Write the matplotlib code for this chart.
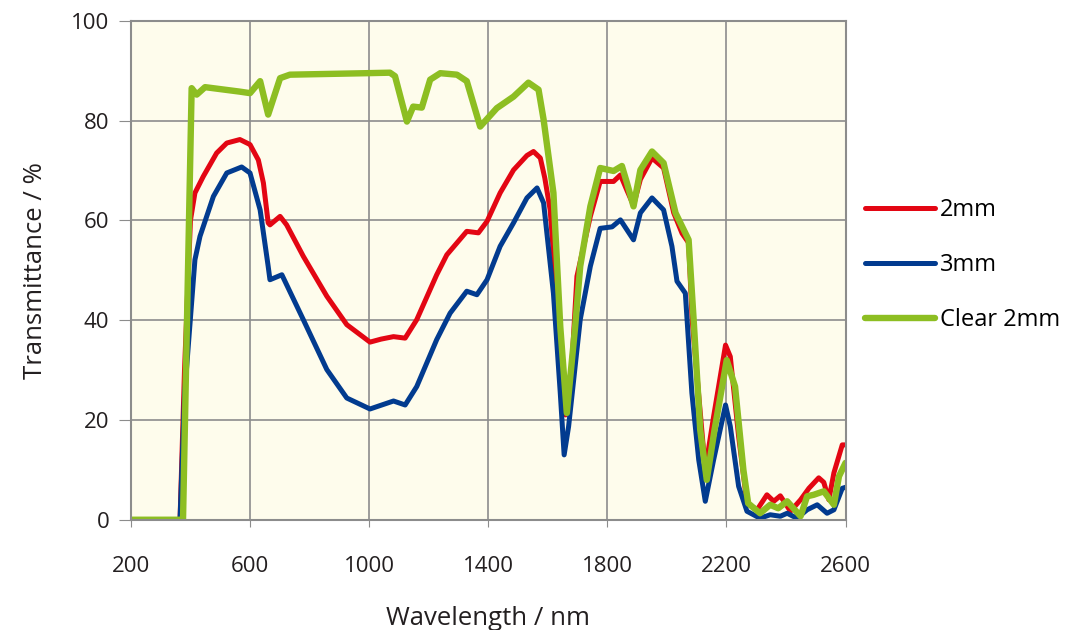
import numpy as np
import matplotlib.pyplot as plt

plt.rcParams['font.family'] = ['Open Sans', 'DejaVu Sans']

# Transmittance spectra (wavelength in nm, T in %)
wl_red = [200, 365, 380, 400, 415, 443, 488, 522, 566, 600, 628, 645, 661, 667, 701, 723, 779,
          858, 925, 1003, 1040, 1082, 1121, 1160, 1227, 1261, 1328, 1367, 1396, 1440, 1485,
          1530, 1552, 1575, 1590, 1608, 1642, 1660, 1675, 1698, 1743, 1776, 1821, 1844, 1866,
          1888, 1911, 1950, 1989, 2023, 2051, 2073, 2085, 2129, 2157, 2197, 2213, 2241, 2269,
          2303, 2336, 2359, 2381, 2415, 2449, 2477, 2510, 2527, 2544, 2561, 2589, 2600]
t_red = [0, 0, 30, 60, 65.5, 68.8, 73.5, 75.5, 76.2, 75.2, 72.1, 67.5, 59.5, 59.1, 60.8, 59.1, 52.8,
         44.8, 39.1, 35.6, 36.2, 36.7, 36.4, 40.1, 49.1, 53.1, 57.8, 57.5, 59.8, 65.5, 70.1,
         73.0, 73.8, 72.5, 68.5, 62.1, 35.4, 21.0, 25.0, 48.8, 60.8, 67.8, 67.8, 69.1, 66.0,
         63.0, 68.2, 72.5, 70.5, 61.5, 57.4, 55.5, 40.0, 10.0, 20.7, 35.0, 32.7, 16.7, 3.3,
         2.0, 5.0, 3.7, 4.8, 1.7, 4.0, 6.3, 8.4, 7.5, 4.0, 9.4, 15.0, 15.0]

wl_blue = [200, 365, 380, 415, 432, 477, 522, 572, 600, 634, 661, 667, 707, 779, 858, 925, 1003,
           1082, 1121, 1160, 1227, 1272, 1328, 1362, 1396, 1440, 1485, 1530, 1564, 1586, 1619,
           1642, 1655, 1670, 1709, 1743, 1776, 1816, 1844, 1866, 1888, 1911, 1950, 1989, 2017,
           2034, 2062, 2068, 2084, 2107, 2129, 2157, 2197, 2213, 2241, 2269, 2313, 2347, 2381,
           2404, 2437, 2471, 2505, 2538, 2561, 2589, 2600]
t_blue = [0, 0, 25, 52.1, 56.8, 64.8, 69.5, 70.7, 69.5, 62.1, 50.8, 48.1, 49.1, 40.1, 30.1, 24.4, 22.2,
          23.8, 23.0, 26.7, 36.1, 41.4, 45.8, 45.1, 48.1, 54.8, 59.5, 64.5, 66.5, 63.5, 45.4,
          25.4, 13.0, 18.7, 40.1, 50.8, 58.4, 58.7, 60.1, 58.1, 56.1, 61.5, 64.5, 62.1, 54.8,
          47.8, 45.4, 40.0, 25.4, 12.0, 3.7, 12.0, 23.0, 18.7, 6.7, 1.7, 0.3, 1.0, 0.7,
          1.3, 0.3, 2.0, 3.0, 1.3, 2.0, 6.3, 6.5]

wl_clear = [200, 375, 404, 421, 449, 566, 600, 634, 661, 701, 734, 992, 1070, 1087, 1127, 1148,
            1177, 1205, 1239, 1295, 1328, 1373, 1429, 1485, 1535, 1569, 1586, 1619, 1642, 1664,
            1692, 1709, 1743, 1776, 1821, 1849, 1866, 1888, 1911, 1950, 1989, 2029, 2073, 2090,
            2112, 2134, 2160, 2201, 2229, 2257, 2273, 2313, 2347, 2374, 2404, 2449, 2471, 2493,
            2527, 2561, 2578, 2600]
t_clear = [0, 0, 86.5, 85.2, 86.7, 85.8, 85.5, 87.9, 81.2, 88.5, 89.2, 89.5, 89.6, 88.9, 79.8, 82.8,
           82.6, 88.2, 89.5, 89.2, 87.9, 78.8, 82.5, 84.8, 87.6, 86.2, 80.2, 65.5, 38.7, 21.4,
           38.7, 50.8, 62.8, 70.5, 69.9, 70.9, 67.5, 62.8, 70.1, 73.8, 71.5, 61.5, 56.1, 40.0,
           18.0, 8.0, 18.0, 32.0, 26.7, 10.0, 3.3, 1.3, 3.0, 2.3, 3.7, 0.7, 4.7, 5.0,
           5.7, 3.0, 8.7, 11.4]

fig = plt.figure(figsize=(10.73, 6.30), dpi=100)
ax = fig.add_axes([0.122, 0.175, 0.666, 0.792])
ax.set_facecolor('#fefcec')

kw = dict(solid_joinstyle='round', solid_capstyle='round')
ax.plot(wl_red, t_red, color='#e30613', lw=3.6, label='2mm', **kw)
ax.plot(wl_blue, t_blue, color='#023b8f', lw=3.6, label='3mm', **kw)
ax.plot(wl_clear, t_clear, color='#8dbe22', lw=4.6, label='Clear 2mm', **kw)

ax.set_xlim(200, 2600)
ax.set_ylim(0, 100)
ax.set_xticks(np.arange(200, 2601, 400))
ax.set_yticks(np.arange(0, 101, 20))
ax.grid(True, color='#8c8c8c', lw=1.2)
ax.set_axisbelow(True)
for s in ax.spines.values():
    s.set_color('#8c8c8c')
    s.set_linewidth(1.5)
ax.tick_params(axis='both', colors='#8c8c8c', labelcolor='#231f20', labelsize=16)
ax.tick_params(axis='x', length=5, pad=21)
ax.tick_params(axis='y', length=8.5, pad=7)

ax.set_xlabel('Wavelength / nm', fontsize=18.5, color='#231f20', labelpad=21)
ax.set_ylabel('Transmittance / %', fontsize=18.5, color='#231f20', labelpad=17)

ax.legend(loc='center left', bbox_to_anchor=(0.997, 0.51), frameon=False, fontsize=17,
          handlelength=3.0, labelspacing=1.32, handletextpad=0.2)

plt.savefig('out.png', dpi=100)
